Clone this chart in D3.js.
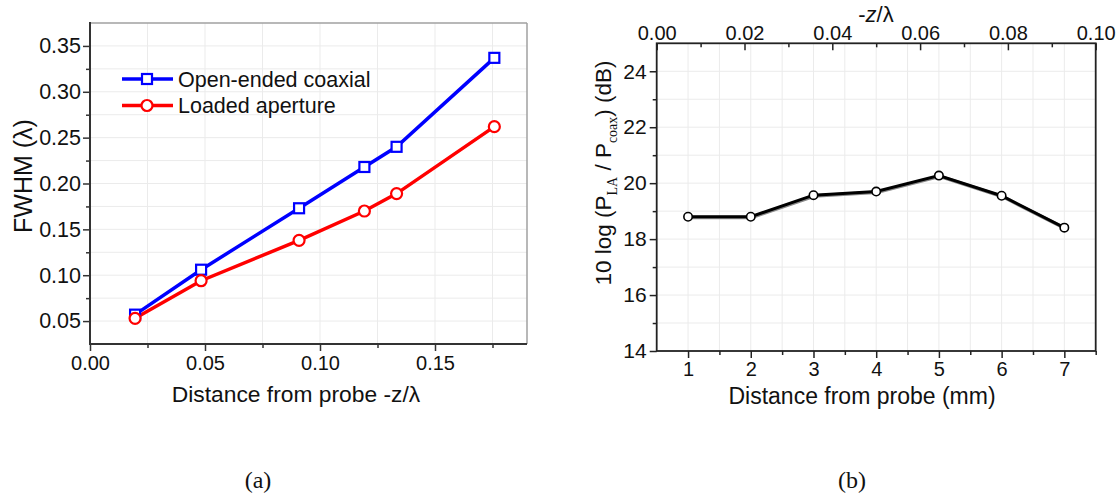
<!DOCTYPE html>
<html><head><meta charset="utf-8">
<script src="https://cdn.jsdelivr.net/npm/d3@7"></script>
<style>
body{margin:0;background:#fff}
svg text{font-family:"Liberation Sans",Arial,sans-serif;fill:#111}
</style></head>
<body><svg id="c" width="1119" height="493"></svg>
<script>
// ---------- data (a) ----------
const distanceA = [0.0196, 0.0483, 0.0909, 0.1193, 0.1333, 0.1758];
const fwhmOpenEnded = [0.057, 0.106, 0.173, 0.218, 0.240, 0.337];
const fwhmLoaded = [0.053, 0.094, 0.138, 0.170, 0.189, 0.262];
const seriesNames = ["Open-ended coaxial", "Loaded aperture"];
const xTicksA = [0.00, 0.05, 0.10, 0.15];
const yTicksA = [0.05, 0.10, 0.15, 0.20, 0.25, 0.30, 0.35];
// ---------- data (b) ----------
const distanceMm = [1, 2, 3, 4, 5, 6, 7];
const powerRatioDb = [18.8, 18.8, 19.57, 19.7, 20.27, 19.55, 18.41];
const xTicksB = [1, 2, 3, 4, 5, 6, 7];
const yTicksB = [14, 16, 18, 20, 22, 24];
const topTicksB = [0.00, 0.02, 0.04, 0.06, 0.08, 0.10];

const svg = d3.select("#c");
const GRID = "#ebebeb";

function styleAxis(g, color, w, fs) {
  g.select(".domain").remove();
  g.selectAll(".tick line").attr("stroke", color).attr("stroke-width", w);
  g.selectAll(".tick text").style("font-size", (fs || 20) + "px").attr("fill", "#111");
}

// ================= Chart (a) =================
const xA = d3.scaleLinear().domain([0, 0.19]).range([90, 527]);
const yA = d3.scaleLinear().domain([0.025, 0.375]).range([344, 23]);
const gA = svg.append("g");

// grid
const gridXA = d3.range(0.025, 0.19, 0.025);
const gridYA = d3.range(0.05, 0.375, 0.025);
gA.append("g").selectAll("line").data(gridXA).join("line")
  .attr("x1", d => xA(d)).attr("x2", d => xA(d)).attr("y1", yA(0.025)).attr("y2", yA(0.375))
  .attr("stroke", GRID).attr("stroke-width", 1);
gA.append("g").selectAll("line").data(gridYA).join("line")
  .attr("y1", d => yA(d)).attr("y2", d => yA(d)).attr("x1", xA(0)).attr("x2", xA(0.19))
  .attr("stroke", GRID).attr("stroke-width", 1);

// frame top/right
gA.append("line").attr("x1", xA(0)).attr("x2", xA(0.19)).attr("y1", yA(0.375)).attr("y2", yA(0.375)).attr("stroke", "#a0a0a0").attr("stroke-width", 1.5);
gA.append("line").attr("x1", xA(0.19)).attr("x2", xA(0.19)).attr("y1", yA(0.375)).attr("y2", yA(0.025)).attr("stroke", "#a0a0a0").attr("stroke-width", 1.5);

// axes
const axBA = gA.append("g").attr("transform", `translate(0,${yA(0.025)})`)
  .call(d3.axisBottom(xA).tickValues(xTicksA).tickFormat(d3.format(".2f")).tickSize(7).tickPadding(5));
styleAxis(axBA, "#333", 1.5, 20);
const axBAm = gA.append("g").attr("transform", `translate(0,${yA(0.025)})`)
  .call(d3.axisBottom(xA).tickValues([0.025, 0.075, 0.125, 0.175]).tickFormat("").tickSize(4));
styleAxis(axBAm, "#333", 1.5);
const axLA = gA.append("g").attr("transform", `translate(${xA(0)},0)`)
  .call(d3.axisLeft(yA).tickValues(yTicksA).tickFormat(d3.format(".2f")).tickSize(7).tickPadding(2));
styleAxis(axLA, "#333", 1.5, 21.5);
const axLAm = gA.append("g").attr("transform", `translate(${xA(0)},0)`)
  .call(d3.axisLeft(yA).tickValues(d3.range(0.075, 0.375, 0.05)).tickFormat("").tickSize(4));
styleAxis(axLAm, "#333", 1.5);
gA.append("line").attr("x1", xA(0)).attr("x2", xA(0.19)).attr("y1", yA(0.025)).attr("y2", yA(0.025)).attr("stroke", "#333").attr("stroke-width", 2);
gA.append("line").attr("x1", xA(0)).attr("x2", xA(0)).attr("y1", yA(0.025) + 1).attr("y2", yA(0.375) - 1).attr("stroke", "#333").attr("stroke-width", 2);

// series
const lineA = d3.line().x(d => xA(d[0])).y(d => yA(d[1]));
const openPts = distanceA.map((d, i) => [d, fwhmOpenEnded[i]]);
const loadPts = distanceA.map((d, i) => [d, fwhmLoaded[i]]);
gA.append("path").attr("d", lineA(openPts)).attr("fill", "none").attr("stroke", "#0000ff").attr("stroke-width", 3.5);
gA.append("path").attr("d", lineA(loadPts)).attr("fill", "none").attr("stroke", "#ff0000").attr("stroke-width", 3.5);
gA.append("g").selectAll("rect").data(openPts).join("rect")
  .attr("x", d => xA(d[0]) - 5).attr("y", d => yA(d[1]) - 5).attr("width", 10).attr("height", 10)
  .attr("fill", "#fff").attr("stroke", "#0000ff").attr("stroke-width", 2.2);
gA.append("g").selectAll("circle").data(loadPts).join("circle")
  .attr("cx", d => xA(d[0])).attr("cy", d => yA(d[1])).attr("r", 5.5)
  .attr("fill", "#fff").attr("stroke", "#ff0000").attr("stroke-width", 2.2);

// legend
const legColors = ["#0000ff", "#ff0000"];
seriesNames.forEach((name, i) => {
  const ly = 79 + i * 26.5;
  gA.append("line").attr("x1", 122).attr("x2", 173).attr("y1", ly).attr("y2", ly).attr("stroke", legColors[i]).attr("stroke-width", 3.5);
  if (i === 0) gA.append("rect").attr("x", 142).attr("y", ly - 5).attr("width", 10).attr("height", 10).attr("fill", "#fff").attr("stroke", legColors[i]).attr("stroke-width", 2.2);
  else gA.append("circle").attr("cx", 147).attr("cy", ly).attr("r", 5.5).attr("fill", "#fff").attr("stroke", legColors[i]).attr("stroke-width", 2.2);
  gA.append("text").attr("x", 178).attr("y", ly).attr("dy", "0.36em").style("font-size", "21.5px").text(name);
});

// titles
gA.append("text").attr("x", 296).attr("y", 402).attr("text-anchor", "middle").style("font-size", "22.8px").text("Distance from probe -z/λ");
gA.append("text").attr("transform", "translate(32,176) rotate(-90)").attr("text-anchor", "middle").style("font-size", "25px").text("FWHM (λ)");
svg.append("text").attr("x", 258).attr("y", 488).attr("text-anchor", "middle")
  .style("font-family", "'Liberation Serif','Times New Roman',serif").style("font-size", "24px").text("(a)");

// ================= Chart (b) =================
const xB = d3.scaleLinear().domain([0.5, 7.5]).range([656.7, 1095.7]);
const yB = d3.scaleLinear().domain([14, 25]).range([351, 43.3]);
const xTop = d3.scaleLinear().domain([0, 0.10]).range([656.7, 1095.7]);
const gB = svg.append("g");

gB.append("g").selectAll("line").data(d3.range(1, 7.5, 0.5)).join("line")
  .attr("x1", d => xB(d)).attr("x2", d => xB(d)).attr("y1", yB(14)).attr("y2", yB(25))
  .attr("stroke", GRID).attr("stroke-width", 1);
gB.append("g").selectAll("line").data(d3.range(15, 25, 1)).join("line")
  .attr("y1", d => yB(d)).attr("y2", d => yB(d)).attr("x1", xB(0.5)).attr("x2", xB(7.5))
  .attr("stroke", GRID).attr("stroke-width", 1);

const axBB = gB.append("g").attr("transform", `translate(0,${yB(14)})`)
  .call(d3.axisBottom(xB).tickValues(xTicksB).tickFormat(d3.format("d")).tickSize(7).tickPadding(4));
styleAxis(axBB, "#222", 1.5, 20);
const axBBm = gB.append("g").attr("transform", `translate(0,${yB(14)})`)
  .call(d3.axisBottom(xB).tickValues(d3.range(1.5, 7.6, 1)).tickFormat("").tickSize(4));
styleAxis(axBBm, "#222", 1.5);
const axLB = gB.append("g").attr("transform", `translate(${xB(0.5)},0)`)
  .call(d3.axisLeft(yB).tickValues(yTicksB).tickFormat(d3.format("d")).tickSize(7).tickPadding(3));
styleAxis(axLB, "#222", 1.5, 21);
const axLBm = gB.append("g").attr("transform", `translate(${xB(0.5)},0)`)
  .call(d3.axisLeft(yB).tickValues([15, 17, 19, 21, 23]).tickFormat("").tickSize(4));
styleAxis(axLBm, "#222", 1.5);
const axTB = gB.append("g").attr("transform", `translate(0,${yB(25)})`)
  .call(d3.axisTop(xTop).tickValues(topTicksB).tickFormat(d3.format(".2f")).tickSize(-7).tickPadding(3));
styleAxis(axTB, "#222", 1.5, 20);
const axTBm = gB.append("g").attr("transform", `translate(0,${yB(25)})`)
  .call(d3.axisTop(xTop).tickValues([0.01, 0.03, 0.05, 0.07, 0.09]).tickFormat("").tickSize(-4));
styleAxis(axTBm, "#222", 1.5);
gB.append("rect").attr("x", xB(0.5)).attr("y", yB(25)).attr("width", xB(7.5) - xB(0.5)).attr("height", yB(14) - yB(25))
  .attr("fill", "none").attr("stroke", "#222").attr("stroke-width", 1.8);

const lineB = d3.line().x(d => xB(d[0])).y(d => yB(d[1]));
const ptsB = distanceMm.map((d, i) => [d, powerRatioDb[i]]);
gB.append("path").attr("d", lineB(ptsB)).attr("fill", "none").attr("stroke", "#888").attr("stroke-width", 3.5).attr("transform", "translate(0.8,0.8)");
gB.append("path").attr("d", lineB(ptsB)).attr("fill", "none").attr("stroke", "#000").attr("stroke-width", 3);
gB.append("g").selectAll("circle").data(ptsB).join("circle")
  .attr("cx", d => xB(d[0])).attr("cy", d => yB(d[1])).attr("r", 4.2)
  .attr("fill", "#fff").attr("stroke", "#000").attr("stroke-width", 1.6);

gB.append("text").attr("x", 862).attr("y", 404).attr("text-anchor", "middle").style("font-size", "23px").text("Distance from probe (mm)");
const topT = gB.append("text").attr("x", 876).attr("y", 22).attr("text-anchor", "middle").style("font-size", "22px");
topT.append("tspan").text("-");
topT.append("tspan").style("font-style", "italic").text("z");
topT.append("tspan").text("/λ");

const yT = gB.append("text").attr("transform", "translate(611,173) rotate(-90)").attr("text-anchor", "middle").style("font-size", "22.5px");
yT.append("tspan").text("10 log (P");
yT.append("tspan").attr("dy", 6).style("font-family", "'Liberation Serif','Times New Roman',serif").style("font-size", "14px").text("LA");
yT.append("tspan").attr("dy", -6).text(" / P");
yT.append("tspan").attr("dy", 6).style("font-family", "'Liberation Serif','Times New Roman',serif").style("font-size", "14px").text("coax");
yT.append("tspan").attr("dy", -6).text(") (dB)");

svg.append("text").attr("x", 852).attr("y", 488).attr("text-anchor", "middle")
  .style("font-family", "'Liberation Serif','Times New Roman',serif").style("font-size", "24px").text("(b)");
</script></body></html>
